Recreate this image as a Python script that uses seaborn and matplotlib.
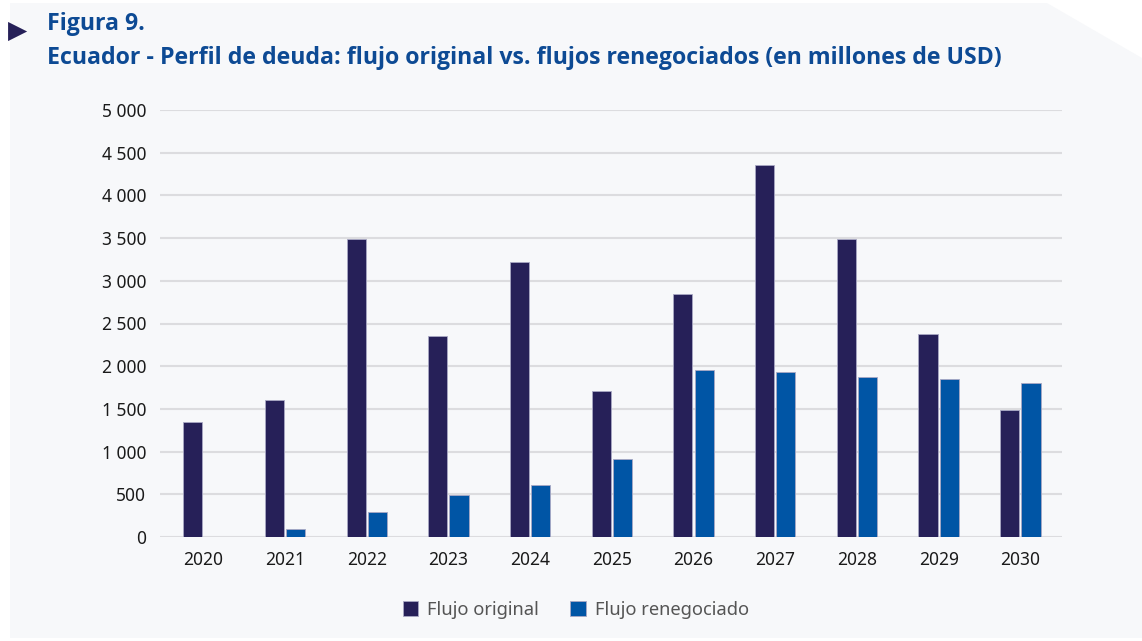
import pandas as pd
import seaborn as sns
import matplotlib.pyplot as plt
from matplotlib.patches import Polygon
from matplotlib.ticker import FuncFormatter

years = ['2020', '2021', '2022', '2023', '2024', '2025', '2026', '2027', '2028', '2029', '2030']
flujo_original = [1350, 1600, 3490, 2350, 3220, 1710, 2845, 4355, 3490, 2375, 1485]
flujo_renegociado = [0, 90, 290, 490, 610, 910, 1955, 1930, 1875, 1850, 1805]
series = ['Flujo original', 'Flujo renegociado']
colors = ['#262058', '#0055a5']

df = pd.DataFrame({
    'Año': years * 2,
    'Valor': flujo_original + flujo_renegociado,
    'Serie': [series[0]] * len(years) + [series[1]] * len(years),
})

sns.set_theme(style='white')
plt.rcParams['font.family'] = ['Noto Sans', 'DejaVu Sans']

W, H = 1142, 641
fig = plt.figure(figsize=(W / 100, H / 100), dpi=100, facecolor='white')

# light panel with cut corner
bg = '#f7f8fa'
panel = Polygon([(10 / W, 1 - 3 / H), (1047 / W, 1 - 3 / H), (1, 1 - 58 / H),
                 (1, 1 - 638 / H), (10 / W, 1 - 638 / H)],
                closed=True, transform=fig.transFigure, facecolor=bg, edgecolor='none', zorder=-10)
fig.patches.append(panel)

ax = fig.add_axes([160 / W, 1 - 537 / H, (1062 - 160) / W, (537 - 110) / H])
ax.set_facecolor('none')
ax.set_zorder(1)

sns.barplot(data=df, x='Año', y='Valor', hue='Serie', palette=colors, saturation=1,
            width=0.52, gap=0.1, edgecolor='#a9a8c4', linewidth=0.6, ax=ax, zorder=3)

ax.set_ylim(0, 5000)
ax.set_xlim(-0.53, 10.51)
ax.set_yticks(range(0, 5001, 500))
ax.yaxis.set_major_formatter(FuncFormatter(lambda v, p: f'{int(v):,}'.replace(',', ' ')))
ax.grid(axis='y', color='#dcdcdf', linewidth=1.5, zorder=0)
ax.set_axisbelow(True)
for s in ax.spines.values():
    s.set_visible(False)
ax.tick_params(axis='both', length=0, labelsize=12.5, labelcolor='#1a1a1a')
ax.tick_params(axis='y', pad=10)
ax.tick_params(axis='x', pad=10)
ax.set_xlabel('')
ax.set_ylabel('')

ax.legend(loc='center', bbox_to_anchor=(576 / W, 1 - 610 / H), bbox_transform=fig.transFigure,
          ncol=2, frameon=False, fontsize=13.2, labelcolor='#555555', handlelength=0.85,
          handleheight=0.85, handletextpad=0.5, columnspacing=1.7, borderaxespad=0)

# title
title_font = ['Open Sans', 'DejaVu Sans']
fig.text(8 / W, 1 - 31 / H, '\u25B6', color='#262058', fontsize=18, va='center', ha='left',
         family=['DejaVu Sans'])
fig.text(47 / W, 1 - 24 / H, 'Figura 9.', color='#0d4a94', fontsize=16.7, fontweight='bold',
         va='center', family=title_font)
fig.text(47 / W, 1 - 58 / H,
         'Ecuador - Perfil de deuda: flujo original vs. flujos renegociados (en millones de USD)',
         color='#0d4a94', fontsize=16.7, fontweight='bold', va='center', family=title_font)

plt.savefig('out.png', dpi=100, facecolor='white')
